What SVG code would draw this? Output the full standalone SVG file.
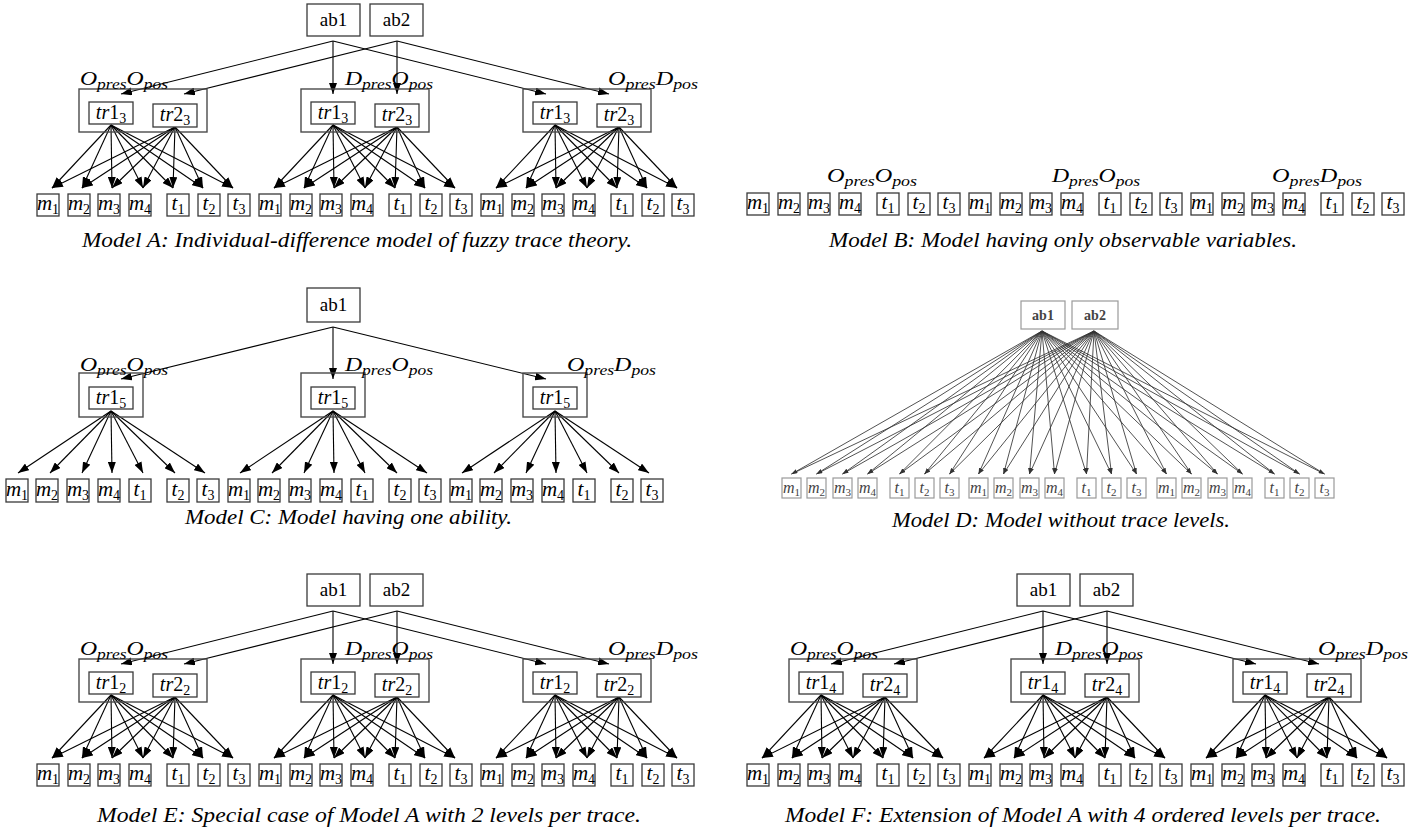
<svg xmlns="http://www.w3.org/2000/svg" width="1416" height="830" viewBox="0 0 1416 830">
<defs>
<marker id="ah" viewBox="0 0 11 8" refX="11" refY="4" markerWidth="11" markerHeight="8" markerUnits="userSpaceOnUse" orient="auto"><path d="M0,0L11,4L0,8z" fill="#000"/></marker>
<marker id="ahs" viewBox="0 0 6 4" refX="6" refY="2" markerWidth="6" markerHeight="4" markerUnits="userSpaceOnUse" orient="auto"><path d="M0,0L6,2L0,4z" fill="#333"/></marker>
<style>
.n rect{fill:#fff;stroke:#3a3a3a;stroke-width:1.3}
.cl rect{fill:none;stroke:#4a4a4a;stroke-width:1.4}
text{font-family:"Liberation Serif","Times New Roman",serif;fill:#000}
.rm{font-size:19px;text-anchor:middle}
.tr{font-size:20px;text-anchor:middle}
.mi{font-size:21px;font-style:italic;text-anchor:middle}
.sb{font-size:14px;font-style:normal}
.gl{font-size:19px;font-style:italic}
.ss{font-size:14px}
.cap{font-size:21px;font-style:italic}
.c line{stroke:#000;stroke-width:1.1;fill:none;marker-end:url(#ah)}
.d rect{fill:#fff;stroke:#9a9a9a;stroke-width:1.2}
.d text{fill:#444}
.dab{font-size:14px;font-weight:bold;text-anchor:middle}
.dm{font-size:16px;font-style:italic;text-anchor:middle}
.dsb{font-size:11px;font-style:normal}
.dc line{stroke:#333;stroke-width:0.85;marker-end:url(#ahs)}
</style>
</defs>
<rect width="1416" height="830" fill="#fff"/>

<!-- ================= CONNECTORS ================= -->
<g id="connectors-A" class="c">
<line x1="333" y1="41" x2="121" y2="94"/><line x1="333" y1="41" x2="333" y2="94"/><line x1="333" y1="41" x2="546" y2="94"/>
<line x1="397" y1="41" x2="184" y2="94"/><line x1="397" y1="41" x2="397" y2="94"/><line x1="397" y1="41" x2="609" y2="94"/>
<line x1="111" y1="125" x2="52" y2="188"/><line x1="111" y1="125" x2="82" y2="188"/><line x1="111" y1="125" x2="112" y2="188"/><line x1="111" y1="125" x2="143" y2="188"/><line x1="111" y1="125" x2="173" y2="188"/><line x1="111" y1="125" x2="203" y2="188"/><line x1="111" y1="125" x2="233" y2="188"/>
<line x1="175" y1="127" x2="52" y2="188"/><line x1="175" y1="127" x2="82" y2="188"/><line x1="175" y1="127" x2="112" y2="188"/><line x1="175" y1="127" x2="143" y2="188"/><line x1="175" y1="127" x2="173" y2="188"/><line x1="175" y1="127" x2="203" y2="188"/><line x1="175" y1="127" x2="233" y2="188"/>
<line x1="333" y1="125" x2="274" y2="188"/><line x1="333" y1="125" x2="304" y2="188"/><line x1="333" y1="125" x2="334" y2="188"/><line x1="333" y1="125" x2="365" y2="188"/><line x1="333" y1="125" x2="395" y2="188"/><line x1="333" y1="125" x2="425" y2="188"/><line x1="333" y1="125" x2="455" y2="188"/>
<line x1="397" y1="127" x2="274" y2="188"/><line x1="397" y1="127" x2="304" y2="188"/><line x1="397" y1="127" x2="334" y2="188"/><line x1="397" y1="127" x2="365" y2="188"/><line x1="397" y1="127" x2="395" y2="188"/><line x1="397" y1="127" x2="425" y2="188"/><line x1="397" y1="127" x2="455" y2="188"/>
<line x1="555" y1="125" x2="496" y2="188"/><line x1="555" y1="125" x2="526" y2="188"/><line x1="555" y1="125" x2="556" y2="188"/><line x1="555" y1="125" x2="587" y2="188"/><line x1="555" y1="125" x2="617" y2="188"/><line x1="555" y1="125" x2="647" y2="188"/><line x1="555" y1="125" x2="677" y2="188"/>
<line x1="619" y1="127" x2="496" y2="188"/><line x1="619" y1="127" x2="526" y2="188"/><line x1="619" y1="127" x2="556" y2="188"/><line x1="619" y1="127" x2="587" y2="188"/><line x1="619" y1="127" x2="617" y2="188"/><line x1="619" y1="127" x2="647" y2="188"/><line x1="619" y1="127" x2="677" y2="188"/>
</g>

<g id="connectors-E" class="c">
<line x1="333" y1="611" x2="121" y2="664"/><line x1="333" y1="611" x2="333" y2="664"/><line x1="333" y1="611" x2="546" y2="664"/>
<line x1="397" y1="611" x2="184" y2="664"/><line x1="397" y1="611" x2="397" y2="664"/><line x1="397" y1="611" x2="609" y2="664"/>
<line x1="111" y1="695" x2="52" y2="758"/><line x1="111" y1="695" x2="82" y2="758"/><line x1="111" y1="695" x2="112" y2="758"/><line x1="111" y1="695" x2="143" y2="758"/><line x1="111" y1="695" x2="173" y2="758"/><line x1="111" y1="695" x2="203" y2="758"/><line x1="111" y1="695" x2="233" y2="758"/>
<line x1="175" y1="697" x2="52" y2="758"/><line x1="175" y1="697" x2="82" y2="758"/><line x1="175" y1="697" x2="112" y2="758"/><line x1="175" y1="697" x2="143" y2="758"/><line x1="175" y1="697" x2="173" y2="758"/><line x1="175" y1="697" x2="203" y2="758"/><line x1="175" y1="697" x2="233" y2="758"/>
<line x1="333" y1="695" x2="274" y2="758"/><line x1="333" y1="695" x2="304" y2="758"/><line x1="333" y1="695" x2="334" y2="758"/><line x1="333" y1="695" x2="365" y2="758"/><line x1="333" y1="695" x2="395" y2="758"/><line x1="333" y1="695" x2="425" y2="758"/><line x1="333" y1="695" x2="455" y2="758"/>
<line x1="397" y1="697" x2="274" y2="758"/><line x1="397" y1="697" x2="304" y2="758"/><line x1="397" y1="697" x2="334" y2="758"/><line x1="397" y1="697" x2="365" y2="758"/><line x1="397" y1="697" x2="395" y2="758"/><line x1="397" y1="697" x2="425" y2="758"/><line x1="397" y1="697" x2="455" y2="758"/>
<line x1="555" y1="695" x2="496" y2="758"/><line x1="555" y1="695" x2="526" y2="758"/><line x1="555" y1="695" x2="556" y2="758"/><line x1="555" y1="695" x2="587" y2="758"/><line x1="555" y1="695" x2="617" y2="758"/><line x1="555" y1="695" x2="647" y2="758"/><line x1="555" y1="695" x2="677" y2="758"/>
<line x1="619" y1="697" x2="496" y2="758"/><line x1="619" y1="697" x2="526" y2="758"/><line x1="619" y1="697" x2="556" y2="758"/><line x1="619" y1="697" x2="587" y2="758"/><line x1="619" y1="697" x2="617" y2="758"/><line x1="619" y1="697" x2="647" y2="758"/><line x1="619" y1="697" x2="677" y2="758"/>
</g>

<g id="connectors-F" class="c">
<line x1="1043" y1="611" x2="831" y2="664"/><line x1="1043" y1="611" x2="1043" y2="664"/><line x1="1043" y1="611" x2="1256" y2="664"/>
<line x1="1107" y1="611" x2="894" y2="664"/><line x1="1107" y1="611" x2="1107" y2="664"/><line x1="1107" y1="611" x2="1319" y2="664"/>
<line x1="821" y1="695" x2="762" y2="758"/><line x1="821" y1="695" x2="792" y2="758"/><line x1="821" y1="695" x2="822" y2="758"/><line x1="821" y1="695" x2="853" y2="758"/><line x1="821" y1="695" x2="883" y2="758"/><line x1="821" y1="695" x2="913" y2="758"/><line x1="821" y1="695" x2="943" y2="758"/>
<line x1="885" y1="697" x2="762" y2="758"/><line x1="885" y1="697" x2="792" y2="758"/><line x1="885" y1="697" x2="822" y2="758"/><line x1="885" y1="697" x2="853" y2="758"/><line x1="885" y1="697" x2="883" y2="758"/><line x1="885" y1="697" x2="913" y2="758"/><line x1="885" y1="697" x2="943" y2="758"/>
<line x1="1043" y1="695" x2="984" y2="758"/><line x1="1043" y1="695" x2="1014" y2="758"/><line x1="1043" y1="695" x2="1044" y2="758"/><line x1="1043" y1="695" x2="1075" y2="758"/><line x1="1043" y1="695" x2="1105" y2="758"/><line x1="1043" y1="695" x2="1135" y2="758"/><line x1="1043" y1="695" x2="1165" y2="758"/>
<line x1="1107" y1="697" x2="984" y2="758"/><line x1="1107" y1="697" x2="1014" y2="758"/><line x1="1107" y1="697" x2="1044" y2="758"/><line x1="1107" y1="697" x2="1075" y2="758"/><line x1="1107" y1="697" x2="1105" y2="758"/><line x1="1107" y1="697" x2="1135" y2="758"/><line x1="1107" y1="697" x2="1165" y2="758"/>
<line x1="1265" y1="695" x2="1206" y2="758"/><line x1="1265" y1="695" x2="1236" y2="758"/><line x1="1265" y1="695" x2="1266" y2="758"/><line x1="1265" y1="695" x2="1297" y2="758"/><line x1="1265" y1="695" x2="1327" y2="758"/><line x1="1265" y1="695" x2="1357" y2="758"/><line x1="1265" y1="695" x2="1387" y2="758"/>
<line x1="1329" y1="697" x2="1206" y2="758"/><line x1="1329" y1="697" x2="1236" y2="758"/><line x1="1329" y1="697" x2="1266" y2="758"/><line x1="1329" y1="697" x2="1297" y2="758"/><line x1="1329" y1="697" x2="1327" y2="758"/><line x1="1329" y1="697" x2="1357" y2="758"/><line x1="1329" y1="697" x2="1387" y2="758"/>
</g>

<g id="connectors-C" class="c">
<line x1="333" y1="327" x2="121" y2="379"/><line x1="333" y1="327" x2="333" y2="379"/><line x1="333" y1="327" x2="546" y2="379"/>
<line x1="111" y1="411" x2="18" y2="473"/><line x1="111" y1="411" x2="50" y2="473"/><line x1="111" y1="411" x2="82" y2="473"/><line x1="111" y1="411" x2="112" y2="473"/><line x1="111" y1="411" x2="143" y2="473"/><line x1="111" y1="411" x2="175" y2="473"/><line x1="111" y1="411" x2="205" y2="473"/>
<line x1="333" y1="411" x2="240" y2="473"/><line x1="333" y1="411" x2="272" y2="473"/><line x1="333" y1="411" x2="304" y2="473"/><line x1="333" y1="411" x2="334" y2="473"/><line x1="333" y1="411" x2="365" y2="473"/><line x1="333" y1="411" x2="397" y2="473"/><line x1="333" y1="411" x2="427" y2="473"/>
<line x1="555" y1="411" x2="462" y2="473"/><line x1="555" y1="411" x2="494" y2="473"/><line x1="555" y1="411" x2="526" y2="473"/><line x1="555" y1="411" x2="556" y2="473"/><line x1="555" y1="411" x2="587" y2="473"/><line x1="555" y1="411" x2="619" y2="473"/><line x1="555" y1="411" x2="649" y2="473"/>
</g>

<g id="connectors-D" class="dc">
<line x1="1042" y1="331" x2="791.5" y2="474"/><line x1="1042" y1="331" x2="816.5" y2="474"/><line x1="1042" y1="331" x2="842.5" y2="474"/><line x1="1042" y1="331" x2="867.5" y2="474"/><line x1="1042" y1="331" x2="899.5" y2="474"/><line x1="1042" y1="331" x2="924.5" y2="474"/><line x1="1042" y1="331" x2="949.5" y2="474"/>
<line x1="1042" y1="331" x2="978.5" y2="474"/><line x1="1042" y1="331" x2="1003.5" y2="474"/><line x1="1042" y1="331" x2="1029.5" y2="474"/><line x1="1042" y1="331" x2="1054.5" y2="474"/><line x1="1042" y1="331" x2="1086.5" y2="474"/><line x1="1042" y1="331" x2="1111.5" y2="474"/><line x1="1042" y1="331" x2="1136.5" y2="474"/>
<line x1="1042" y1="331" x2="1166.5" y2="474"/><line x1="1042" y1="331" x2="1191.5" y2="474"/><line x1="1042" y1="331" x2="1217.5" y2="474"/><line x1="1042" y1="331" x2="1242.5" y2="474"/><line x1="1042" y1="331" x2="1274.5" y2="474"/><line x1="1042" y1="331" x2="1299.5" y2="474"/><line x1="1042" y1="331" x2="1324.5" y2="474"/>
<line x1="1094" y1="331" x2="791.5" y2="474"/><line x1="1094" y1="331" x2="816.5" y2="474"/><line x1="1094" y1="331" x2="842.5" y2="474"/><line x1="1094" y1="331" x2="867.5" y2="474"/><line x1="1094" y1="331" x2="899.5" y2="474"/><line x1="1094" y1="331" x2="924.5" y2="474"/><line x1="1094" y1="331" x2="949.5" y2="474"/>
<line x1="1094" y1="331" x2="978.5" y2="474"/><line x1="1094" y1="331" x2="1003.5" y2="474"/><line x1="1094" y1="331" x2="1029.5" y2="474"/><line x1="1094" y1="331" x2="1054.5" y2="474"/><line x1="1094" y1="331" x2="1086.5" y2="474"/><line x1="1094" y1="331" x2="1111.5" y2="474"/><line x1="1094" y1="331" x2="1136.5" y2="474"/>
<line x1="1094" y1="331" x2="1166.5" y2="474"/><line x1="1094" y1="331" x2="1191.5" y2="474"/><line x1="1094" y1="331" x2="1217.5" y2="474"/><line x1="1094" y1="331" x2="1242.5" y2="474"/><line x1="1094" y1="331" x2="1274.5" y2="474"/><line x1="1094" y1="331" x2="1299.5" y2="474"/><line x1="1094" y1="331" x2="1324.5" y2="474"/>
</g>

<!-- ================= MODEL A ================= -->
<g id="A-ab1" class="n"><rect x="307" y="4" width="53" height="32"/><text class="rm" x="333.5" y="26">ab1</text></g>
<g id="A-ab2" class="n"><rect x="370" y="4" width="53" height="32"/><text class="rm" x="396.5" y="26">ab2</text></g>
<g id="A-OpresOpos" class="cl"><rect x="79" y="89" width="128" height="43"/><text class="gl" x="80" y="85" textLength="88" lengthAdjust="spacingAndGlyphs">O<tspan class="ss" dy="4">pres</tspan><tspan dy="-4">O</tspan><tspan class="ss" dy="4">pos</tspan></text></g>
<g id="A-DpresOpos" class="cl"><rect x="301" y="89" width="128" height="43"/><text class="gl" x="345" y="85" textLength="88" lengthAdjust="spacingAndGlyphs">D<tspan class="ss" dy="4">pres</tspan><tspan dy="-4">O</tspan><tspan class="ss" dy="4">pos</tspan></text></g>
<g id="A-OpresDpos" class="cl"><rect x="523" y="89" width="128" height="43"/><text class="gl" x="608" y="85" textLength="90" lengthAdjust="spacingAndGlyphs">O<tspan class="ss" dy="4">pres</tspan><tspan dy="-4">D</tspan><tspan class="ss" dy="4">pos</tspan></text></g>
<g id="A-g1-tr1" class="n"><rect x="89" y="102" width="44" height="22"/><text class="tr" x="111" y="119"><tspan font-style="italic">tr</tspan>1<tspan class="sb" dy="4">3</tspan></text></g>
<g id="A-g1-tr2" class="n"><rect x="153" y="104" width="44" height="23"/><text class="tr" x="175" y="121"><tspan font-style="italic">tr</tspan>2<tspan class="sb" dy="4">3</tspan></text></g>
<g id="A-g2-tr1" class="n"><rect x="311" y="102" width="44" height="22"/><text class="tr" x="333" y="119"><tspan font-style="italic">tr</tspan>1<tspan class="sb" dy="4">3</tspan></text></g>
<g id="A-g2-tr2" class="n"><rect x="375" y="104" width="44" height="23"/><text class="tr" x="397" y="121"><tspan font-style="italic">tr</tspan>2<tspan class="sb" dy="4">3</tspan></text></g>
<g id="A-g3-tr1" class="n"><rect x="533" y="102" width="44" height="22"/><text class="tr" x="555" y="119"><tspan font-style="italic">tr</tspan>1<tspan class="sb" dy="4">3</tspan></text></g>
<g id="A-g3-tr2" class="n"><rect x="597" y="104" width="44" height="23"/><text class="tr" x="619" y="121"><tspan font-style="italic">tr</tspan>2<tspan class="sb" dy="4">3</tspan></text></g>
<g id="A-g1-m1" class="n"><rect x="37" y="194" width="22" height="22"/><text class="mi" x="48" y="210">m<tspan class="sb" dy="4">1</tspan></text></g>
<g id="A-g1-m2" class="n"><rect x="68" y="194" width="22" height="22"/><text class="mi" x="79" y="210">m<tspan class="sb" dy="4">2</tspan></text></g>
<g id="A-g1-m3" class="n"><rect x="98" y="194" width="22" height="22"/><text class="mi" x="109" y="210">m<tspan class="sb" dy="4">3</tspan></text></g>
<g id="A-g1-m4" class="n"><rect x="129" y="194" width="22" height="22"/><text class="mi" x="140" y="210">m<tspan class="sb" dy="4">4</tspan></text></g>
<g id="A-g1-t1" class="n"><rect x="167" y="194" width="22" height="22"/><text class="mi" x="178" y="210">t<tspan class="sb" dy="4">1</tspan></text></g>
<g id="A-g1-t2" class="n"><rect x="198" y="194" width="22" height="22"/><text class="mi" x="209" y="210">t<tspan class="sb" dy="4">2</tspan></text></g>
<g id="A-g1-t3" class="n"><rect x="228" y="194" width="22" height="22"/><text class="mi" x="239" y="210">t<tspan class="sb" dy="4">3</tspan></text></g>
<g id="A-g2-m1" class="n"><rect x="259" y="194" width="22" height="22"/><text class="mi" x="270" y="210">m<tspan class="sb" dy="4">1</tspan></text></g>
<g id="A-g2-m2" class="n"><rect x="290" y="194" width="22" height="22"/><text class="mi" x="301" y="210">m<tspan class="sb" dy="4">2</tspan></text></g>
<g id="A-g2-m3" class="n"><rect x="320" y="194" width="22" height="22"/><text class="mi" x="331" y="210">m<tspan class="sb" dy="4">3</tspan></text></g>
<g id="A-g2-m4" class="n"><rect x="351" y="194" width="22" height="22"/><text class="mi" x="362" y="210">m<tspan class="sb" dy="4">4</tspan></text></g>
<g id="A-g2-t1" class="n"><rect x="389" y="194" width="22" height="22"/><text class="mi" x="400" y="210">t<tspan class="sb" dy="4">1</tspan></text></g>
<g id="A-g2-t2" class="n"><rect x="420" y="194" width="22" height="22"/><text class="mi" x="431" y="210">t<tspan class="sb" dy="4">2</tspan></text></g>
<g id="A-g2-t3" class="n"><rect x="450" y="194" width="22" height="22"/><text class="mi" x="461" y="210">t<tspan class="sb" dy="4">3</tspan></text></g>
<g id="A-g3-m1" class="n"><rect x="481" y="194" width="22" height="22"/><text class="mi" x="492" y="210">m<tspan class="sb" dy="4">1</tspan></text></g>
<g id="A-g3-m2" class="n"><rect x="512" y="194" width="22" height="22"/><text class="mi" x="523" y="210">m<tspan class="sb" dy="4">2</tspan></text></g>
<g id="A-g3-m3" class="n"><rect x="542" y="194" width="22" height="22"/><text class="mi" x="553" y="210">m<tspan class="sb" dy="4">3</tspan></text></g>
<g id="A-g3-m4" class="n"><rect x="573" y="194" width="22" height="22"/><text class="mi" x="584" y="210">m<tspan class="sb" dy="4">4</tspan></text></g>
<g id="A-g3-t1" class="n"><rect x="611" y="194" width="22" height="22"/><text class="mi" x="622" y="210">t<tspan class="sb" dy="4">1</tspan></text></g>
<g id="A-g3-t2" class="n"><rect x="642" y="194" width="22" height="22"/><text class="mi" x="653" y="210">t<tspan class="sb" dy="4">2</tspan></text></g>
<g id="A-g3-t3" class="n"><rect x="672" y="194" width="22" height="22"/><text class="mi" x="683" y="210">t<tspan class="sb" dy="4">3</tspan></text></g>
<text id="cap-A" class="cap" x="82" y="247" textLength="550" lengthAdjust="spacingAndGlyphs">Model A: Individual-difference model of fuzzy trace theory.</text>

<!-- ================= MODEL B ================= -->
<g id="B-labels">
<text class="gl" x="827" y="182" textLength="90" lengthAdjust="spacingAndGlyphs">O<tspan class="ss" dy="4">pres</tspan><tspan dy="-4">O</tspan><tspan class="ss" dy="4">pos</tspan></text>
<text class="gl" x="1052" y="182" textLength="88" lengthAdjust="spacingAndGlyphs">D<tspan class="ss" dy="4">pres</tspan><tspan dy="-4">O</tspan><tspan class="ss" dy="4">pos</tspan></text>
<text class="gl" x="1272" y="182" textLength="90" lengthAdjust="spacingAndGlyphs">O<tspan class="ss" dy="4">pres</tspan><tspan dy="-4">D</tspan><tspan class="ss" dy="4">pos</tspan></text>
</g>
<g id="B-g1-m1" class="n"><rect x="747" y="193" width="22" height="22"/><text class="mi" x="758" y="209">m<tspan class="sb" dy="4">1</tspan></text></g>
<g id="B-g1-m2" class="n"><rect x="778" y="193" width="22" height="22"/><text class="mi" x="789" y="209">m<tspan class="sb" dy="4">2</tspan></text></g>
<g id="B-g1-m3" class="n"><rect x="808" y="193" width="22" height="22"/><text class="mi" x="819" y="209">m<tspan class="sb" dy="4">3</tspan></text></g>
<g id="B-g1-m4" class="n"><rect x="839" y="193" width="22" height="22"/><text class="mi" x="850" y="209">m<tspan class="sb" dy="4">4</tspan></text></g>
<g id="B-g1-t1" class="n"><rect x="877" y="193" width="22" height="22"/><text class="mi" x="888" y="209">t<tspan class="sb" dy="4">1</tspan></text></g>
<g id="B-g1-t2" class="n"><rect x="908" y="193" width="22" height="22"/><text class="mi" x="919" y="209">t<tspan class="sb" dy="4">2</tspan></text></g>
<g id="B-g1-t3" class="n"><rect x="938" y="193" width="22" height="22"/><text class="mi" x="949" y="209">t<tspan class="sb" dy="4">3</tspan></text></g>
<g id="B-g2-m1" class="n"><rect x="969" y="193" width="22" height="22"/><text class="mi" x="980" y="209">m<tspan class="sb" dy="4">1</tspan></text></g>
<g id="B-g2-m2" class="n"><rect x="1000" y="193" width="22" height="22"/><text class="mi" x="1011" y="209">m<tspan class="sb" dy="4">2</tspan></text></g>
<g id="B-g2-m3" class="n"><rect x="1030" y="193" width="22" height="22"/><text class="mi" x="1041" y="209">m<tspan class="sb" dy="4">3</tspan></text></g>
<g id="B-g2-m4" class="n"><rect x="1061" y="193" width="22" height="22"/><text class="mi" x="1072" y="209">m<tspan class="sb" dy="4">4</tspan></text></g>
<g id="B-g2-t1" class="n"><rect x="1099" y="193" width="22" height="22"/><text class="mi" x="1110" y="209">t<tspan class="sb" dy="4">1</tspan></text></g>
<g id="B-g2-t2" class="n"><rect x="1130" y="193" width="22" height="22"/><text class="mi" x="1141" y="209">t<tspan class="sb" dy="4">2</tspan></text></g>
<g id="B-g2-t3" class="n"><rect x="1160" y="193" width="22" height="22"/><text class="mi" x="1171" y="209">t<tspan class="sb" dy="4">3</tspan></text></g>
<g id="B-g3-m1" class="n"><rect x="1191" y="193" width="22" height="22"/><text class="mi" x="1202" y="209">m<tspan class="sb" dy="4">1</tspan></text></g>
<g id="B-g3-m2" class="n"><rect x="1222" y="193" width="22" height="22"/><text class="mi" x="1233" y="209">m<tspan class="sb" dy="4">2</tspan></text></g>
<g id="B-g3-m3" class="n"><rect x="1252" y="193" width="22" height="22"/><text class="mi" x="1263" y="209">m<tspan class="sb" dy="4">3</tspan></text></g>
<g id="B-g3-m4" class="n"><rect x="1283" y="193" width="22" height="22"/><text class="mi" x="1294" y="209">m<tspan class="sb" dy="4">4</tspan></text></g>
<g id="B-g3-t1" class="n"><rect x="1321" y="193" width="22" height="22"/><text class="mi" x="1332" y="209">t<tspan class="sb" dy="4">1</tspan></text></g>
<g id="B-g3-t2" class="n"><rect x="1352" y="193" width="22" height="22"/><text class="mi" x="1363" y="209">t<tspan class="sb" dy="4">2</tspan></text></g>
<g id="B-g3-t3" class="n"><rect x="1382" y="193" width="22" height="22"/><text class="mi" x="1393" y="209">t<tspan class="sb" dy="4">3</tspan></text></g>
<text id="cap-B" class="cap" x="829" y="247" textLength="468" lengthAdjust="spacingAndGlyphs">Model B: Model having only observable variables.</text>

<!-- ================= MODEL C ================= -->
<g id="C-ab1" class="n"><rect x="307" y="288" width="53" height="34"/><text class="rm" x="333.5" y="311">ab1</text></g>
<g id="C-OpresOpos" class="cl"><rect x="79" y="373" width="64" height="44"/><text class="gl" x="80" y="371" textLength="88" lengthAdjust="spacingAndGlyphs">O<tspan class="ss" dy="4">pres</tspan><tspan dy="-4">O</tspan><tspan class="ss" dy="4">pos</tspan></text></g>
<g id="C-DpresOpos" class="cl"><rect x="301" y="373" width="64" height="44"/><text class="gl" x="345" y="371" textLength="88" lengthAdjust="spacingAndGlyphs">D<tspan class="ss" dy="4">pres</tspan><tspan dy="-4">O</tspan><tspan class="ss" dy="4">pos</tspan></text></g>
<g id="C-OpresDpos" class="cl"><rect x="523" y="373" width="64" height="44"/><text class="gl" x="567" y="371" textLength="89" lengthAdjust="spacingAndGlyphs">O<tspan class="ss" dy="4">pres</tspan><tspan dy="-4">D</tspan><tspan class="ss" dy="4">pos</tspan></text></g>
<g id="C-g1-tr1" class="n"><rect x="89" y="387" width="44" height="22"/><text class="tr" x="111" y="404"><tspan font-style="italic">tr</tspan>1<tspan class="sb" dy="4">5</tspan></text></g>
<g id="C-g2-tr1" class="n"><rect x="311" y="387" width="44" height="22"/><text class="tr" x="333" y="404"><tspan font-style="italic">tr</tspan>1<tspan class="sb" dy="4">5</tspan></text></g>
<g id="C-g3-tr1" class="n"><rect x="533" y="387" width="44" height="22"/><text class="tr" x="555" y="404"><tspan font-style="italic">tr</tspan>1<tspan class="sb" dy="4">5</tspan></text></g>
<g id="C-g1-m1" class="n"><rect x="6" y="479" width="22" height="23"/><text class="mi" x="17" y="496">m<tspan class="sb" dy="4">1</tspan></text></g>
<g id="C-g1-m2" class="n"><rect x="36" y="479" width="22" height="23"/><text class="mi" x="47" y="496">m<tspan class="sb" dy="4">2</tspan></text></g>
<g id="C-g1-m3" class="n"><rect x="67" y="479" width="22" height="23"/><text class="mi" x="78" y="496">m<tspan class="sb" dy="4">3</tspan></text></g>
<g id="C-g1-m4" class="n"><rect x="98" y="479" width="22" height="23"/><text class="mi" x="109" y="496">m<tspan class="sb" dy="4">4</tspan></text></g>
<g id="C-g1-t1" class="n"><rect x="129" y="479" width="22" height="23"/><text class="mi" x="140" y="496">t<tspan class="sb" dy="4">1</tspan></text></g>
<g id="C-g1-t2" class="n"><rect x="167" y="479" width="22" height="23"/><text class="mi" x="178" y="496">t<tspan class="sb" dy="4">2</tspan></text></g>
<g id="C-g1-t3" class="n"><rect x="197" y="479" width="22" height="23"/><text class="mi" x="208" y="496">t<tspan class="sb" dy="4">3</tspan></text></g>
<g id="C-g2-m1" class="n"><rect x="228" y="479" width="22" height="23"/><text class="mi" x="239" y="496">m<tspan class="sb" dy="4">1</tspan></text></g>
<g id="C-g2-m2" class="n"><rect x="258" y="479" width="22" height="23"/><text class="mi" x="269" y="496">m<tspan class="sb" dy="4">2</tspan></text></g>
<g id="C-g2-m3" class="n"><rect x="289" y="479" width="22" height="23"/><text class="mi" x="300" y="496">m<tspan class="sb" dy="4">3</tspan></text></g>
<g id="C-g2-m4" class="n"><rect x="320" y="479" width="22" height="23"/><text class="mi" x="331" y="496">m<tspan class="sb" dy="4">4</tspan></text></g>
<g id="C-g2-t1" class="n"><rect x="351" y="479" width="22" height="23"/><text class="mi" x="362" y="496">t<tspan class="sb" dy="4">1</tspan></text></g>
<g id="C-g2-t2" class="n"><rect x="389" y="479" width="22" height="23"/><text class="mi" x="400" y="496">t<tspan class="sb" dy="4">2</tspan></text></g>
<g id="C-g2-t3" class="n"><rect x="419" y="479" width="22" height="23"/><text class="mi" x="430" y="496">t<tspan class="sb" dy="4">3</tspan></text></g>
<g id="C-g3-m1" class="n"><rect x="450" y="479" width="22" height="23"/><text class="mi" x="461" y="496">m<tspan class="sb" dy="4">1</tspan></text></g>
<g id="C-g3-m2" class="n"><rect x="480" y="479" width="22" height="23"/><text class="mi" x="491" y="496">m<tspan class="sb" dy="4">2</tspan></text></g>
<g id="C-g3-m3" class="n"><rect x="511" y="479" width="22" height="23"/><text class="mi" x="522" y="496">m<tspan class="sb" dy="4">3</tspan></text></g>
<g id="C-g3-m4" class="n"><rect x="542" y="479" width="22" height="23"/><text class="mi" x="553" y="496">m<tspan class="sb" dy="4">4</tspan></text></g>
<g id="C-g3-t1" class="n"><rect x="573" y="479" width="22" height="23"/><text class="mi" x="584" y="496">t<tspan class="sb" dy="4">1</tspan></text></g>
<g id="C-g3-t2" class="n"><rect x="611" y="479" width="22" height="23"/><text class="mi" x="622" y="496">t<tspan class="sb" dy="4">2</tspan></text></g>
<g id="C-g3-t3" class="n"><rect x="641" y="479" width="22" height="23"/><text class="mi" x="652" y="496">t<tspan class="sb" dy="4">3</tspan></text></g>
<text id="cap-C" class="cap" x="185" y="524" textLength="327" lengthAdjust="spacingAndGlyphs">Model C: Model having one ability.</text>

<!-- ================= MODEL D ================= -->
<g id="D-ab1" class="d"><rect x="1021" y="301" width="44" height="28"/><text class="dab" x="1043" y="320">ab1</text></g>
<g id="D-ab2" class="d"><rect x="1072" y="301" width="46" height="28"/><text class="dab" x="1095" y="320">ab2</text></g>
<g id="D-g1-m1" class="d"><rect x="782" y="478" width="19" height="20"/><text class="dm" x="791.5" y="493">m<tspan class="dsb" dy="3">1</tspan></text></g>
<g id="D-g1-m2" class="d"><rect x="807" y="478" width="19" height="20"/><text class="dm" x="816.5" y="493">m<tspan class="dsb" dy="3">2</tspan></text></g>
<g id="D-g1-m3" class="d"><rect x="833" y="478" width="19" height="20"/><text class="dm" x="842.5" y="493">m<tspan class="dsb" dy="3">3</tspan></text></g>
<g id="D-g1-m4" class="d"><rect x="858" y="478" width="19" height="20"/><text class="dm" x="867.5" y="493">m<tspan class="dsb" dy="3">4</tspan></text></g>
<g id="D-g1-t1" class="d"><rect x="890" y="478" width="19" height="20"/><text class="dm" x="899.5" y="493">t<tspan class="dsb" dy="3">1</tspan></text></g>
<g id="D-g1-t2" class="d"><rect x="915" y="478" width="19" height="20"/><text class="dm" x="924.5" y="493">t<tspan class="dsb" dy="3">2</tspan></text></g>
<g id="D-g1-t3" class="d"><rect x="940" y="478" width="19" height="20"/><text class="dm" x="949.5" y="493">t<tspan class="dsb" dy="3">3</tspan></text></g>
<g id="D-g2-m1" class="d"><rect x="969" y="478" width="19" height="20"/><text class="dm" x="978.5" y="493">m<tspan class="dsb" dy="3">1</tspan></text></g>
<g id="D-g2-m2" class="d"><rect x="994" y="478" width="19" height="20"/><text class="dm" x="1003.5" y="493">m<tspan class="dsb" dy="3">2</tspan></text></g>
<g id="D-g2-m3" class="d"><rect x="1020" y="478" width="19" height="20"/><text class="dm" x="1029.5" y="493">m<tspan class="dsb" dy="3">3</tspan></text></g>
<g id="D-g2-m4" class="d"><rect x="1045" y="478" width="19" height="20"/><text class="dm" x="1054.5" y="493">m<tspan class="dsb" dy="3">4</tspan></text></g>
<g id="D-g2-t1" class="d"><rect x="1077" y="478" width="19" height="20"/><text class="dm" x="1086.5" y="493">t<tspan class="dsb" dy="3">1</tspan></text></g>
<g id="D-g2-t2" class="d"><rect x="1102" y="478" width="19" height="20"/><text class="dm" x="1111.5" y="493">t<tspan class="dsb" dy="3">2</tspan></text></g>
<g id="D-g2-t3" class="d"><rect x="1127" y="478" width="19" height="20"/><text class="dm" x="1136.5" y="493">t<tspan class="dsb" dy="3">3</tspan></text></g>
<g id="D-g3-m1" class="d"><rect x="1157" y="478" width="19" height="20"/><text class="dm" x="1166.5" y="493">m<tspan class="dsb" dy="3">1</tspan></text></g>
<g id="D-g3-m2" class="d"><rect x="1182" y="478" width="19" height="20"/><text class="dm" x="1191.5" y="493">m<tspan class="dsb" dy="3">2</tspan></text></g>
<g id="D-g3-m3" class="d"><rect x="1208" y="478" width="19" height="20"/><text class="dm" x="1217.5" y="493">m<tspan class="dsb" dy="3">3</tspan></text></g>
<g id="D-g3-m4" class="d"><rect x="1233" y="478" width="19" height="20"/><text class="dm" x="1242.5" y="493">m<tspan class="dsb" dy="3">4</tspan></text></g>
<g id="D-g3-t1" class="d"><rect x="1265" y="478" width="19" height="20"/><text class="dm" x="1274.5" y="493">t<tspan class="dsb" dy="3">1</tspan></text></g>
<g id="D-g3-t2" class="d"><rect x="1290" y="478" width="19" height="20"/><text class="dm" x="1299.5" y="493">t<tspan class="dsb" dy="3">2</tspan></text></g>
<g id="D-g3-t3" class="d"><rect x="1315" y="478" width="19" height="20"/><text class="dm" x="1324.5" y="493">t<tspan class="dsb" dy="3">3</tspan></text></g>
<text id="cap-D" class="cap" x="892" y="527" textLength="338" lengthAdjust="spacingAndGlyphs">Model D: Model without trace levels.</text>

<!-- ================= MODEL E ================= -->
<g id="E-ab1" class="n"><rect x="307" y="574" width="53" height="32"/><text class="rm" x="333.5" y="596">ab1</text></g>
<g id="E-ab2" class="n"><rect x="370" y="574" width="53" height="32"/><text class="rm" x="396.5" y="596">ab2</text></g>
<g id="E-OpresOpos" class="cl"><rect x="79" y="659" width="128" height="43"/><text class="gl" x="80" y="655" textLength="88" lengthAdjust="spacingAndGlyphs">O<tspan class="ss" dy="4">pres</tspan><tspan dy="-4">O</tspan><tspan class="ss" dy="4">pos</tspan></text></g>
<g id="E-DpresOpos" class="cl"><rect x="301" y="659" width="128" height="43"/><text class="gl" x="345" y="655" textLength="88" lengthAdjust="spacingAndGlyphs">D<tspan class="ss" dy="4">pres</tspan><tspan dy="-4">O</tspan><tspan class="ss" dy="4">pos</tspan></text></g>
<g id="E-OpresDpos" class="cl"><rect x="523" y="659" width="128" height="43"/><text class="gl" x="608" y="655" textLength="90" lengthAdjust="spacingAndGlyphs">O<tspan class="ss" dy="4">pres</tspan><tspan dy="-4">D</tspan><tspan class="ss" dy="4">pos</tspan></text></g>
<g id="E-g1-tr1" class="n"><rect x="89" y="672" width="44" height="22"/><text class="tr" x="111" y="689"><tspan font-style="italic">tr</tspan>1<tspan class="sb" dy="4">2</tspan></text></g>
<g id="E-g1-tr2" class="n"><rect x="153" y="674" width="44" height="23"/><text class="tr" x="175" y="691"><tspan font-style="italic">tr</tspan>2<tspan class="sb" dy="4">2</tspan></text></g>
<g id="E-g2-tr1" class="n"><rect x="311" y="672" width="44" height="22"/><text class="tr" x="333" y="689"><tspan font-style="italic">tr</tspan>1<tspan class="sb" dy="4">2</tspan></text></g>
<g id="E-g2-tr2" class="n"><rect x="375" y="674" width="44" height="23"/><text class="tr" x="397" y="691"><tspan font-style="italic">tr</tspan>2<tspan class="sb" dy="4">2</tspan></text></g>
<g id="E-g3-tr1" class="n"><rect x="533" y="672" width="44" height="22"/><text class="tr" x="555" y="689"><tspan font-style="italic">tr</tspan>1<tspan class="sb" dy="4">2</tspan></text></g>
<g id="E-g3-tr2" class="n"><rect x="597" y="674" width="44" height="23"/><text class="tr" x="619" y="691"><tspan font-style="italic">tr</tspan>2<tspan class="sb" dy="4">2</tspan></text></g>
<g id="E-g1-m1" class="n"><rect x="37" y="764" width="22" height="22"/><text class="mi" x="48" y="780">m<tspan class="sb" dy="4">1</tspan></text></g>
<g id="E-g1-m2" class="n"><rect x="68" y="764" width="22" height="22"/><text class="mi" x="79" y="780">m<tspan class="sb" dy="4">2</tspan></text></g>
<g id="E-g1-m3" class="n"><rect x="98" y="764" width="22" height="22"/><text class="mi" x="109" y="780">m<tspan class="sb" dy="4">3</tspan></text></g>
<g id="E-g1-m4" class="n"><rect x="129" y="764" width="22" height="22"/><text class="mi" x="140" y="780">m<tspan class="sb" dy="4">4</tspan></text></g>
<g id="E-g1-t1" class="n"><rect x="167" y="764" width="22" height="22"/><text class="mi" x="178" y="780">t<tspan class="sb" dy="4">1</tspan></text></g>
<g id="E-g1-t2" class="n"><rect x="198" y="764" width="22" height="22"/><text class="mi" x="209" y="780">t<tspan class="sb" dy="4">2</tspan></text></g>
<g id="E-g1-t3" class="n"><rect x="228" y="764" width="22" height="22"/><text class="mi" x="239" y="780">t<tspan class="sb" dy="4">3</tspan></text></g>
<g id="E-g2-m1" class="n"><rect x="259" y="764" width="22" height="22"/><text class="mi" x="270" y="780">m<tspan class="sb" dy="4">1</tspan></text></g>
<g id="E-g2-m2" class="n"><rect x="290" y="764" width="22" height="22"/><text class="mi" x="301" y="780">m<tspan class="sb" dy="4">2</tspan></text></g>
<g id="E-g2-m3" class="n"><rect x="320" y="764" width="22" height="22"/><text class="mi" x="331" y="780">m<tspan class="sb" dy="4">3</tspan></text></g>
<g id="E-g2-m4" class="n"><rect x="351" y="764" width="22" height="22"/><text class="mi" x="362" y="780">m<tspan class="sb" dy="4">4</tspan></text></g>
<g id="E-g2-t1" class="n"><rect x="389" y="764" width="22" height="22"/><text class="mi" x="400" y="780">t<tspan class="sb" dy="4">1</tspan></text></g>
<g id="E-g2-t2" class="n"><rect x="420" y="764" width="22" height="22"/><text class="mi" x="431" y="780">t<tspan class="sb" dy="4">2</tspan></text></g>
<g id="E-g2-t3" class="n"><rect x="450" y="764" width="22" height="22"/><text class="mi" x="461" y="780">t<tspan class="sb" dy="4">3</tspan></text></g>
<g id="E-g3-m1" class="n"><rect x="481" y="764" width="22" height="22"/><text class="mi" x="492" y="780">m<tspan class="sb" dy="4">1</tspan></text></g>
<g id="E-g3-m2" class="n"><rect x="512" y="764" width="22" height="22"/><text class="mi" x="523" y="780">m<tspan class="sb" dy="4">2</tspan></text></g>
<g id="E-g3-m3" class="n"><rect x="542" y="764" width="22" height="22"/><text class="mi" x="553" y="780">m<tspan class="sb" dy="4">3</tspan></text></g>
<g id="E-g3-m4" class="n"><rect x="573" y="764" width="22" height="22"/><text class="mi" x="584" y="780">m<tspan class="sb" dy="4">4</tspan></text></g>
<g id="E-g3-t1" class="n"><rect x="611" y="764" width="22" height="22"/><text class="mi" x="622" y="780">t<tspan class="sb" dy="4">1</tspan></text></g>
<g id="E-g3-t2" class="n"><rect x="642" y="764" width="22" height="22"/><text class="mi" x="653" y="780">t<tspan class="sb" dy="4">2</tspan></text></g>
<g id="E-g3-t3" class="n"><rect x="672" y="764" width="22" height="22"/><text class="mi" x="683" y="780">t<tspan class="sb" dy="4">3</tspan></text></g>
<text id="cap-E" class="cap" x="97" y="822" textLength="544" lengthAdjust="spacingAndGlyphs">Model E: Special case of Model A with 2 levels per trace.</text>

<!-- ================= MODEL F ================= -->
<g id="F-ab1" class="n"><rect x="1017" y="574" width="53" height="32"/><text class="rm" x="1043.5" y="596">ab1</text></g>
<g id="F-ab2" class="n"><rect x="1080" y="574" width="53" height="32"/><text class="rm" x="1106.5" y="596">ab2</text></g>
<g id="F-OpresOpos" class="cl"><rect x="789" y="659" width="128" height="43"/><text class="gl" x="790" y="655" textLength="88" lengthAdjust="spacingAndGlyphs">O<tspan class="ss" dy="4">pres</tspan><tspan dy="-4">O</tspan><tspan class="ss" dy="4">pos</tspan></text></g>
<g id="F-DpresOpos" class="cl"><rect x="1011" y="659" width="128" height="43"/><text class="gl" x="1055" y="655" textLength="88" lengthAdjust="spacingAndGlyphs">D<tspan class="ss" dy="4">pres</tspan><tspan dy="-4">O</tspan><tspan class="ss" dy="4">pos</tspan></text></g>
<g id="F-OpresDpos" class="cl"><rect x="1233" y="659" width="128" height="43"/><text class="gl" x="1318" y="655" textLength="90" lengthAdjust="spacingAndGlyphs">O<tspan class="ss" dy="4">pres</tspan><tspan dy="-4">D</tspan><tspan class="ss" dy="4">pos</tspan></text></g>
<g id="F-g1-tr1" class="n"><rect x="799" y="672" width="44" height="22"/><text class="tr" x="821" y="689"><tspan font-style="italic">tr</tspan>1<tspan class="sb" dy="4">4</tspan></text></g>
<g id="F-g1-tr2" class="n"><rect x="863" y="674" width="44" height="23"/><text class="tr" x="885" y="691"><tspan font-style="italic">tr</tspan>2<tspan class="sb" dy="4">4</tspan></text></g>
<g id="F-g2-tr1" class="n"><rect x="1021" y="672" width="44" height="22"/><text class="tr" x="1043" y="689"><tspan font-style="italic">tr</tspan>1<tspan class="sb" dy="4">4</tspan></text></g>
<g id="F-g2-tr2" class="n"><rect x="1085" y="674" width="44" height="23"/><text class="tr" x="1107" y="691"><tspan font-style="italic">tr</tspan>2<tspan class="sb" dy="4">4</tspan></text></g>
<g id="F-g3-tr1" class="n"><rect x="1243" y="672" width="44" height="22"/><text class="tr" x="1265" y="689"><tspan font-style="italic">tr</tspan>1<tspan class="sb" dy="4">4</tspan></text></g>
<g id="F-g3-tr2" class="n"><rect x="1307" y="674" width="44" height="23"/><text class="tr" x="1329" y="691"><tspan font-style="italic">tr</tspan>2<tspan class="sb" dy="4">4</tspan></text></g>
<g id="F-g1-m1" class="n"><rect x="747" y="764" width="22" height="22"/><text class="mi" x="758" y="780">m<tspan class="sb" dy="4">1</tspan></text></g>
<g id="F-g1-m2" class="n"><rect x="778" y="764" width="22" height="22"/><text class="mi" x="789" y="780">m<tspan class="sb" dy="4">2</tspan></text></g>
<g id="F-g1-m3" class="n"><rect x="808" y="764" width="22" height="22"/><text class="mi" x="819" y="780">m<tspan class="sb" dy="4">3</tspan></text></g>
<g id="F-g1-m4" class="n"><rect x="839" y="764" width="22" height="22"/><text class="mi" x="850" y="780">m<tspan class="sb" dy="4">4</tspan></text></g>
<g id="F-g1-t1" class="n"><rect x="877" y="764" width="22" height="22"/><text class="mi" x="888" y="780">t<tspan class="sb" dy="4">1</tspan></text></g>
<g id="F-g1-t2" class="n"><rect x="908" y="764" width="22" height="22"/><text class="mi" x="919" y="780">t<tspan class="sb" dy="4">2</tspan></text></g>
<g id="F-g1-t3" class="n"><rect x="938" y="764" width="22" height="22"/><text class="mi" x="949" y="780">t<tspan class="sb" dy="4">3</tspan></text></g>
<g id="F-g2-m1" class="n"><rect x="969" y="764" width="22" height="22"/><text class="mi" x="980" y="780">m<tspan class="sb" dy="4">1</tspan></text></g>
<g id="F-g2-m2" class="n"><rect x="1000" y="764" width="22" height="22"/><text class="mi" x="1011" y="780">m<tspan class="sb" dy="4">2</tspan></text></g>
<g id="F-g2-m3" class="n"><rect x="1030" y="764" width="22" height="22"/><text class="mi" x="1041" y="780">m<tspan class="sb" dy="4">3</tspan></text></g>
<g id="F-g2-m4" class="n"><rect x="1061" y="764" width="22" height="22"/><text class="mi" x="1072" y="780">m<tspan class="sb" dy="4">4</tspan></text></g>
<g id="F-g2-t1" class="n"><rect x="1099" y="764" width="22" height="22"/><text class="mi" x="1110" y="780">t<tspan class="sb" dy="4">1</tspan></text></g>
<g id="F-g2-t2" class="n"><rect x="1130" y="764" width="22" height="22"/><text class="mi" x="1141" y="780">t<tspan class="sb" dy="4">2</tspan></text></g>
<g id="F-g2-t3" class="n"><rect x="1160" y="764" width="22" height="22"/><text class="mi" x="1171" y="780">t<tspan class="sb" dy="4">3</tspan></text></g>
<g id="F-g3-m1" class="n"><rect x="1191" y="764" width="22" height="22"/><text class="mi" x="1202" y="780">m<tspan class="sb" dy="4">1</tspan></text></g>
<g id="F-g3-m2" class="n"><rect x="1222" y="764" width="22" height="22"/><text class="mi" x="1233" y="780">m<tspan class="sb" dy="4">2</tspan></text></g>
<g id="F-g3-m3" class="n"><rect x="1252" y="764" width="22" height="22"/><text class="mi" x="1263" y="780">m<tspan class="sb" dy="4">3</tspan></text></g>
<g id="F-g3-m4" class="n"><rect x="1283" y="764" width="22" height="22"/><text class="mi" x="1294" y="780">m<tspan class="sb" dy="4">4</tspan></text></g>
<g id="F-g3-t1" class="n"><rect x="1321" y="764" width="22" height="22"/><text class="mi" x="1332" y="780">t<tspan class="sb" dy="4">1</tspan></text></g>
<g id="F-g3-t2" class="n"><rect x="1352" y="764" width="22" height="22"/><text class="mi" x="1363" y="780">t<tspan class="sb" dy="4">2</tspan></text></g>
<g id="F-g3-t3" class="n"><rect x="1382" y="764" width="22" height="22"/><text class="mi" x="1393" y="780">t<tspan class="sb" dy="4">3</tspan></text></g>
<text id="cap-F" class="cap" x="785" y="822" textLength="596" lengthAdjust="spacingAndGlyphs">Model F: Extension of Model A with 4 ordered levels per trace.</text>
</svg>
